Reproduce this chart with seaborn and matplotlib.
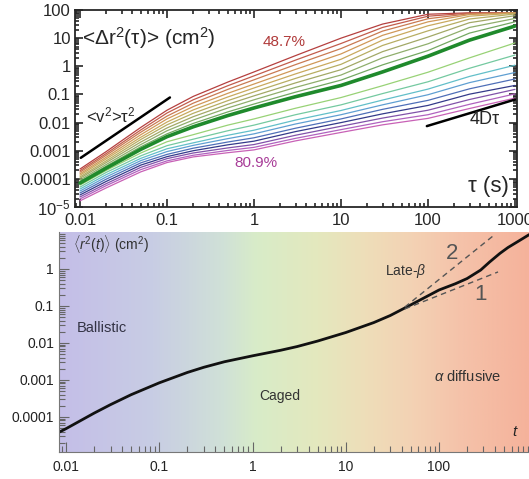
import numpy as np
import pandas as pd
import matplotlib
matplotlib.use("Agg")
import matplotlib.pyplot as plt
import seaborn as sns
from matplotlib.colors import LinearSegmentedColormap
from matplotlib.ticker import LogLocator, NullFormatter

# ---------------- data: top panel (log10 of <dr^2> in cm^2) ----------------
tau = [0.01, 0.02, 0.05, 0.1, 0.2, 0.5, 1, 3, 10, 30, 100, 300, 1000]

msd_top = [
    [-3.65, -3.03, -2.17, -1.56, -1.07, -0.56, -0.20, 0.38, 1.00, 1.50, 1.85, 1.90, 1.90],  # 48.7%
    [-3.71, -3.10, -2.26, -1.66, -1.19, -0.69, -0.34, 0.22, 0.81, 1.38, 1.78, 1.89, 1.90],
    [-3.76, -3.16, -2.34, -1.77, -1.31, -0.82, -0.48, 0.06, 0.63, 1.25, 1.69, 1.87, 1.90],
    [-3.82, -3.23, -2.43, -1.87, -1.43, -0.96, -0.63, -0.11, 0.44, 1.10, 1.58, 1.84, 1.90],
    [-3.87, -3.29, -2.52, -1.98, -1.55, -1.09, -0.77, -0.27, 0.25, 0.93, 1.44, 1.78, 1.89],
    [-3.93, -3.36, -2.60, -2.08, -1.67, -1.22, -0.91, -0.43, 0.07, 0.74, 1.26, 1.68, 1.86],
    [-3.98, -3.42, -2.69, -2.19, -1.79, -1.35, -1.05, -0.59, -0.12, 0.52, 1.04, 1.55, 1.80],
    [-4.04, -3.49, -2.78, -2.29, -1.91, -1.48, -1.19, -0.75, -0.31, 0.30, 0.80, 1.38, 1.70],
    [-4.09, -3.55, -2.86, -2.40, -2.03, -1.62, -1.34, -0.92, -0.49, 0.05, 0.56, 1.18, 1.58],
]
msd_green = [-4.15, -3.62, -2.95, -2.50, -2.15, -1.75, -1.48, -1.08, -0.68, -0.20, 0.36, 0.93, 1.43]
msd_low = [
    [-4.22, -3.70, -3.08, -2.68, -2.43, -2.09, -1.87, -1.49, -1.11, -0.69, -0.21, 0.30, 0.83],
    [-4.29, -3.77, -3.18, -2.82, -2.59, -2.29, -2.09, -1.72, -1.37, -0.97, -0.55, -0.07, 0.40],
    [-4.36, -3.85, -3.27, -2.93, -2.72, -2.45, -2.27, -1.91, -1.57, -1.20, -0.81, -0.36, 0.04],
    [-4.43, -3.93, -3.35, -3.03, -2.81, -2.57, -2.40, -2.05, -1.72, -1.37, -1.01, -0.58, -0.22],
    [-4.50, -4.01, -3.43, -3.13, -2.91, -2.69, -2.54, -2.20, -1.87, -1.53, -1.21, -0.80, -0.45],
    [-4.57, -4.09, -3.51, -3.21, -3.00, -2.79, -2.66, -2.32, -2.00, -1.69, -1.39, -0.99, -0.68],
    [-4.64, -4.17, -3.59, -3.28, -3.08, -2.90, -2.78, -2.45, -2.13, -1.84, -1.56, -1.18, -0.82],
    [-4.71, -4.24, -3.67, -3.36, -3.16, -2.99, -2.88, -2.56, -2.25, -1.97, -1.72, -1.35, -0.98],
    [-4.78, -4.32, -3.75, -3.42, -3.22, -3.07, -2.97, -2.65, -2.35, -2.08, -1.85, -1.50, -1.13],  # 80.9%
]
colors_top = ["#b5403f", "#c25c4c", "#c97a52", "#d09858", "#c9a95e",
              "#b7ad62", "#a2a866", "#8fae6c", "#74a862"]
color_green = "#1f8a2c"
colors_low = ["#98d276", "#74c9a0", "#62bfc9", "#5f9fd2", "#4f6fb8",
              "#343a8a", "#8152a9", "#b062bf", "#c861b6"]

# guide lines (tau, value)
ballistic_x = [0.0102, 0.108]
ballistic_y = [5.6e-4, 0.078]
diff_x = [97, 1000]
diff_y = [0.0075, 0.066]

top_xticks = [0.01, 0.1, 1, 10, 100, 1000]
top_xlabels = ["0.01", "0.1", "1", "10", "100", "1000"]
top_yticks = [1e-5, 1e-4, 1e-3, 1e-2, 0.1, 1, 10, 100]
top_ylabels = ["10$^{-5}$", "0.0001", "0.001", "0.01", "0.1", "1", "10", "100"]

# ---------------- data: bottom panel ----------------
t = [0.0085, 0.01, 0.02, 0.03, 0.05, 0.1, 0.2, 0.3, 0.5, 1, 2, 3, 5, 10, 20,
     30, 50, 100, 150, 200, 280, 350, 450, 550, 700, 930]
r2_log = [-4.41, -4.32, -3.90, -3.67, -3.40, -3.08, -2.80, -2.66, -2.51, -2.35,
          -2.20, -2.10, -1.95, -1.72, -1.45, -1.26, -0.97, -0.57, -0.40, -0.26,
          -0.03, 0.19, 0.42, 0.58, 0.74, 0.93]
slope2_x = [43, 380]
slope2_y = [0.093, 7.8]
slope1_x = [43, 430]
slope1_y = [0.083, 0.83]

bot_xticks = [0.01, 0.1, 1, 10, 100]
bot_xlabels = ["0.01", "0.1", "1", "10", "100"]
bot_yticks = [1e-4, 1e-3, 1e-2, 0.1, 1]
bot_ylabels = ["0.0001", "0.001", "0.01", "0.1", "1"]

grad_colors = ["#c4bee8", "#c8cde4", "#d0e1d7", "#d8ecc8", "#e4e8be",
               "#eedeb9", "#f3d2b4", "#f5c3aa", "#f5b29b"]
grad_stops = [0.0, 0.2, 0.35, 0.42, 0.55, 0.65, 0.75, 0.85, 1.0]

# ---------------- style ----------------
sns.set_style("ticks")
plt.rcParams["font.family"] = ["Liberation Sans", "DejaVu Sans"]
plt.rcParams["mathtext.fontset"] = "custom"
plt.rcParams["mathtext.rm"] = "Liberation Sans"
plt.rcParams["mathtext.it"] = "Liberation Sans:italic"

fig = plt.figure(figsize=(5.29, 4.79), dpi=100)

# ================= top panel =================
ax1 = fig.add_axes([0.1418, 0.5678, 0.8355, 0.4113])
for vals, c in zip(msd_top, colors_top):
    sns.lineplot(x=tau, y=10 ** np.array(vals), ax=ax1, color=c, lw=0.9)
for vals, c in zip(msd_low, colors_low):
    sns.lineplot(x=tau, y=10 ** np.array(vals), ax=ax1, color=c, lw=0.9)
sns.lineplot(x=tau, y=10 ** np.array(msd_green), ax=ax1, color=color_green, lw=2.6)
sns.lineplot(x=ballistic_x, y=ballistic_y, ax=ax1, color="black", lw=1.8)
sns.lineplot(x=diff_x, y=diff_y, ax=ax1, color="black", lw=1.8)

ax1.set_xscale("log")
ax1.set_yscale("log")
ax1.set_xlim(0.00876, 1054)
ax1.set_ylim(1e-5, 100)
ax1.set_xticks(top_xticks, labels=top_xlabels)
ax1.set_yticks(top_yticks, labels=top_ylabels)
ax1.xaxis.set_minor_locator(LogLocator(base=10, subs=np.arange(2, 10)))
ax1.yaxis.set_minor_locator(LogLocator(base=10, subs=np.arange(2, 10), numticks=20))
ax1.xaxis.set_minor_formatter(NullFormatter())
ax1.yaxis.set_minor_formatter(NullFormatter())
ax1.tick_params(which="both", direction="in", top=True, right=True, labelsize=12, width=1.2)
ax1.tick_params(which="major", length=6)
ax1.tick_params(which="minor", length=3)
ax1.tick_params(axis="x", pad=4)
ax1.tick_params(axis="y", pad=3)
for s in ax1.spines.values():
    s.set_linewidth(1.3)
ax1.set_xlabel("")
ax1.set_ylabel("")

ax1.text(0.016, 0.858, "<Δr$^2$(τ)> (cm$^2$)", transform=ax1.transAxes,
         fontsize=15, ha="left", va="center")
ax1.text(0.473, 0.838, "48.7%", transform=ax1.transAxes, fontsize=11,
         color="#b03a3a", ha="center", va="center")
ax1.text(0.41, 0.223, "80.9%", transform=ax1.transAxes, fontsize=11,
         color="#a83c98", ha="center", va="center")
ax1.text(0.081, 0.467, "<v$^2$>τ$^2$", transform=ax1.transAxes, fontsize=12,
         ha="center", va="center")
ax1.text(0.928, 0.442, "4Dτ", transform=ax1.transAxes, fontsize=13,
         ha="center", va="center")
ax1.text(0.936, 0.102, "τ (s)", transform=ax1.transAxes, fontsize=16,
         ha="center", va="center")

# ================= bottom panel =================
pos2 = [0.1115, 0.0564, 0.8885, 0.4593]
bg = fig.add_axes(pos2, zorder=0)
cmap = LinearSegmentedColormap.from_list("regimes", list(zip(grad_stops, grad_colors)))
bg.imshow(np.linspace(0, 1, 512).reshape(1, -1), cmap=cmap, aspect="auto",
          extent=[0, 1, 0, 1])
bg.set_axis_off()

ax2 = fig.add_axes(pos2, zorder=1)
ax2.patch.set_alpha(0)
sns.lineplot(x=t, y=10 ** np.array(r2_log), ax=ax2, color="#111111", lw=2.0)
sns.lineplot(x=slope2_x, y=slope2_y, ax=ax2, color="#555555", lw=1.0, linestyle=(0, (4, 3)))
sns.lineplot(x=slope1_x, y=slope1_y, ax=ax2, color="#555555", lw=1.0, linestyle=(0, (4, 3)))

ax2.set_xscale("log")
ax2.set_yscale("log")
ax2.set_xlim(0.0084, 924)
ax2.set_ylim(1.12e-5, 10)
ax2.set_xticks(bot_xticks, labels=bot_xlabels)
ax2.set_yticks(bot_yticks, labels=bot_ylabels)
ax2.xaxis.set_minor_locator(LogLocator(base=10, subs=np.arange(2, 10)))
ax2.yaxis.set_minor_locator(LogLocator(base=10, subs=np.arange(2, 10), numticks=20))
ax2.xaxis.set_minor_formatter(NullFormatter())
ax2.yaxis.set_minor_formatter(NullFormatter())
ax2.tick_params(which="both", direction="in", color="#666666", labelsize=10,
                labelcolor="#222222", width=0.8)
ax2.tick_params(which="major", length=7)
ax2.tick_params(which="minor", length=4)
ax2.tick_params(axis="x", pad=6)
sns.despine(ax=ax2, top=True, right=True)
for s in ["left", "bottom"]:
    ax2.spines[s].set_color("#777777")
    ax2.spines[s].set_linewidth(0.8)
ax2.set_xlabel("")
ax2.set_ylabel("")

ax2.text(0.03, 0.945, r"$\langle r^2(t)\rangle$ (cm$^2$)", transform=ax2.transAxes,
         fontsize=10, ha="left", va="center", color="#333333")
ax2.text(0.091, 0.564, "Ballistic", transform=ax2.transAxes, fontsize=10.5,
         ha="center", va="center", color="#333344")
ax2.text(0.47, 0.255, "Caged", transform=ax2.transAxes, fontsize=10,
         ha="center", va="center", color="#333333")
ax2.text(0.87, 0.341, r"$\alpha$ diffusive", transform=ax2.transAxes, fontsize=10.5,
         ha="center", va="center", color="#333333")
ax2.text(0.738, 0.823, r"Late-$\beta$", transform=ax2.transAxes, fontsize=10,
         ha="center", va="center", color="#333333")
ax2.text(0.836, 0.9, "2", transform=ax2.transAxes, fontsize=16,
         ha="center", va="center", color="#555555")
ax2.text(0.896, 0.714, "1", transform=ax2.transAxes, fontsize=16,
         ha="center", va="center", color="#555555")
ax2.text(0.970, 0.091, r"$t$", transform=ax2.transAxes, fontsize=11,
         ha="center", va="center", color="#222222")

fig.savefig("out.png", dpi=100)
